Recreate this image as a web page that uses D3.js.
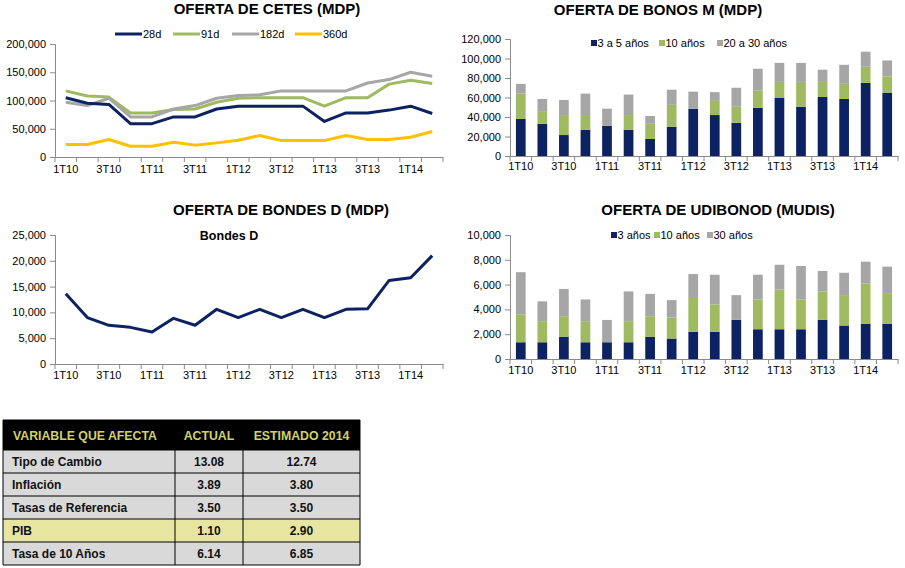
<!DOCTYPE html>
<html><head><meta charset="utf-8">
<script src="https://cdn.jsdelivr.net/npm/d3@7"></script>
<style>
body{margin:0;background:#fff;}
svg{display:block;font-family:"Liberation Sans",Arial,sans-serif;}
</style></head>
<body><svg id="c" width="905" height="568"></svg>
<script>
const categories = ["1T10","2T10","3T10","4T10","1T11","2T11","3T11","4T11","1T12","2T12","3T12","4T12","1T13","2T13","3T13","4T13","1T14","2T14"];

// CETES (MDP)
const cetes28 = [105000,95000,93000,59000,59000,71000,71000,85000,90000,90000,90000,90000,63000,78000,78000,83000,90000,77000];
const cetes91 = [117000,108000,106000,78000,78000,84000,85000,97000,104000,105000,105000,105000,90000,105000,105000,129000,136000,130000];
const cetes182 = [97000,91000,104000,71000,71000,85000,91000,104000,109000,110000,117000,117000,117000,117000,131000,137000,150000,143000];
const cetes360 = [22000,22000,31000,19000,19000,26000,21000,25000,29500,38000,29000,29000,29000,38000,31000,31000,35000,45000];
const cetesNames = ["28d","91d","182d","360d"];

// BONOS M (MDP)
const bonos3a5 = [38000,33000,21500,27000,31000,27000,17500,30000,48500,42000,34000,49500,59500,50500,60500,58500,75000,65000];
const bonos10 = [26000,13000,20500,15000,0,15000,15500,22500,0,14500,16500,17500,16500,25500,15500,15500,16500,16500];
const bonos20a30 = [10000,12500,15500,22000,17500,21000,8000,15500,17500,9000,19500,22500,19500,19500,12500,19500,15500,16500];
const bonosNames = ["3 a 5 años","10 años","20 a 30 años"];

// BONDES D (MDP)
const bondes = [13600,9000,7500,7100,6200,8850,7500,10600,9000,10600,9000,10600,9000,10600,10700,16200,16700,21000];

// UDIBONOD (MUDIS)
const udi3 = [1350,1350,1800,1350,1350,1350,1800,1650,2200,2200,3150,2400,2400,2400,3150,2700,2850,2850];
const udi10 = [2250,1700,1650,1700,0,1700,1650,1700,2800,2200,0,2400,3200,2400,2300,2450,3250,2400];
const udi30 = [3400,1600,2200,1750,1800,2400,1800,1400,1850,2400,2000,2000,2000,2700,1650,1800,1750,2200];
const udiNames = ["3 años","10 años","30 años"];

// Tabla
const tableHeader = ["VARIABLE QUE AFECTA","ACTUAL","ESTIMADO 2014"];
const tableVars = ["Tipo de Cambio","Inflación","Tasas de Referencia","PIB","Tasa de 10 Años"];
const tableActual = ["13.08","3.89","3.50","1.10","6.14"];
const tableEstimado = ["12.74","3.80","3.50","2.90","6.85"];

const NAVY="#0c2262", GREEN="#9fba60", GRAY="#a6a6a6", YELLOW="#ffc000", AXIS="#8a8a8a";
const svg = d3.select("#c");
const fmt = d3.format(",");

function axes(g, x, y, ticks, labelDy){
  const [x0,x1] = x.range();
  const [y0,y1] = y.range();
  const ya = g.append("g").attr("transform",`translate(${x0},0)`)
    .call(d3.axisLeft(y).tickValues(ticks).tickSize(5).tickPadding(4).tickFormat(fmt));
  ya.select(".domain").attr("stroke",AXIS);
  ya.selectAll(".tick line").attr("stroke",AXIS);
  ya.selectAll("text").attr("font-size",11).attr("fill","#000").attr("font-family","Liberation Sans, Arial, sans-serif");
  const xa = g.append("g").attr("transform",`translate(0,${y0})`)
    .call(d3.axisBottom(x).tickSize(0).tickPadding(labelDy).tickFormat((d,i)=> i%2===0 ? d : ""));
  xa.select(".domain").attr("stroke",AXIS);
  xa.selectAll("text").attr("font-size",11).attr("fill","#000").attr("font-family","Liberation Sans, Arial, sans-serif");
  const step = (x1-x0)/categories.length;
  g.append("g").selectAll("line").data(d3.range(categories.length+1)).join("line")
    .attr("x1",i=>x0+i*step).attr("x2",i=>x0+i*step)
    .attr("y1",y0).attr("y2",y0+5).attr("stroke",AXIS);
}

function title(txt, cx, by){
  svg.append("text").attr("x",cx).attr("y",by).attr("text-anchor","middle")
    .attr("font-size",15).attr("font-weight","bold").text(txt);
}

// ---------- Chart 1: CETES ----------
{
  const g = svg.append("g");
  const x = d3.scalePoint().domain(categories).range([55,443]).padding(0.5);
  const xb = d3.scaleBand().domain(categories).range([55,443]);
  const y = d3.scaleLinear().domain([0,200000]).range([157,44]);
  axes(g, xb, y, d3.range(0,200001,50000), 8);
  const series = [cetes28,cetes91,cetes182,cetes360];
  const colors = [NAVY,GREEN,GRAY,YELLOW];
  const line = d3.line().x((d,i)=>x(categories[i])).y(d=>y(d));
  [3,1,2,0].forEach(k=>{
    g.append("path").datum(series[k]).attr("d",line).attr("fill","none")
      .attr("stroke",colors[k]).attr("stroke-width",3).attr("stroke-linejoin","round");
  });
  const lx = [115,173,232,295];
  cetesNames.forEach((n,k)=>{
    g.append("line").attr("x1",lx[k]).attr("x2",lx[k]+27).attr("y1",34).attr("y2",34)
      .attr("stroke",colors[k]).attr("stroke-width",3);
    g.append("text").attr("x",lx[k]+28).attr("y",38).attr("font-size",11).text(n);
  });
  title("OFERTA DE CETES (MDP)", 267, 14);
}

function stacked(series, names, colors, xr, yr, domainMax, tickStep, legendX, legendY, labelDy){
  const g = svg.append("g");
  const x = d3.scaleBand().domain(categories).range(xr).paddingInner(0.55).paddingOuter(0.275);
  const xb = d3.scaleBand().domain(categories).range(xr);
  const y = d3.scaleLinear().domain([0,domainMax]).range(yr);
  const rows = categories.map((c,i)=>{ const o={cat:c}; names.forEach((n,k)=>o[n]=series[k][i]); return o; });
  const st = d3.stack().keys(names)(rows);
  g.selectAll("g.s").data(st).join("g").attr("fill",(d,k)=>colors[k])
    .selectAll("rect").data(d=>d).join("rect")
    .attr("x",d=>x(d.data.cat)).attr("width",x.bandwidth())
    .attr("y",d=>y(d[1])).attr("height",d=>y(d[0])-y(d[1]));
  axes(g, xb, y, d3.range(0,domainMax+1,tickStep), labelDy);
  names.forEach((n,k)=>{
    g.append("rect").attr("x",legendX[k]).attr("y",legendY-3).attr("width",6).attr("height",6).attr("fill",colors[k]);
    g.append("text").attr("x",legendX[k]+6.5).attr("y",legendY+4).attr("font-size",11).text(n);
  });
}

// ---------- Chart 2: BONOS M ----------
stacked([bonos3a5,bonos10,bonos20a30], bonosNames, [NAVY,GREEN,GRAY], [510,898],[156,39],120000,20000,[591,659,717],43,6);
title("OFERTA DE BONOS M (MDP)", 658, 15);

// ---------- Chart 3: BONDES D ----------
{
  const g = svg.append("g");
  const x = d3.scalePoint().domain(categories).range([55,443]).padding(0.5);
  const xb = d3.scaleBand().domain(categories).range([55,443]);
  const y = d3.scaleLinear().domain([0,25000]).range([364,235]);
  axes(g, xb, y, d3.range(0,25001,5000), 7);
  g.append("path").datum(bondes).attr("d",d3.line().x((d,i)=>x(categories[i])).y(d=>y(d)))
    .attr("fill","none").attr("stroke",NAVY).attr("stroke-width",3).attr("stroke-linejoin","round");
  g.append("text").attr("x",229).attr("y",240).attr("text-anchor","middle")
    .attr("font-size",12.5).attr("font-weight","bold").text("Bondes D");
  title("OFERTA DE BONDES D (MDP)", 281, 215);
}

// ---------- Chart 4: UDIBONOD ----------
stacked([udi3,udi10,udi30], udiNames, [NAVY,GREEN,GRAY], [510,898],[359,235],10000,2000,[611,654,707],235,7);
title("OFERTA DE UDIBONOD (MUDIS)", 718, 215);

// ---------- Table ----------
{
  const g = svg.append("g");
  const cols = [3,175,243,360];
  const top = 420, hh = 30, rh = 23;
  g.append("rect").attr("x",cols[0]).attr("y",top).attr("width",cols[3]-cols[0]).attr("height",hh).attr("fill","#000");
  tableHeader.forEach((h,j)=>{
    g.append("text").attr("x", j===0 ? 13 : (cols[j]+cols[j+1])/2).attr("y",top+hh/2+4.5)
      .attr("text-anchor", j===0 ? "start":"middle").attr("font-size",12.3).attr("font-weight","bold")
      .attr("fill","#d2d26a").text(h);
  });
  const rows = tableVars.map((v,i)=>[v,tableActual[i],tableEstimado[i]]);
  const rg = g.selectAll("g.r").data(rows).join("g").attr("transform",(d,i)=>`translate(0,${top+hh+i*rh})`);
  rg.append("rect").attr("x",cols[0]).attr("y",0).attr("width",cols[3]-cols[0]).attr("height",rh)
    .attr("fill",(d,i)=> tableVars[i]==="PIB" ? "#e6e6a0" : "#d9d9d9");
  rg.each(function(r){
    const sel = d3.select(this);
    r.forEach((t,j)=>{
      sel.append("text").attr("x", j===0 ? 12 : (cols[j]+cols[j+1])/2).attr("y",rh/2+4.5)
        .attr("text-anchor", j===0 ? "start":"middle").attr("font-size",12).attr("font-weight","bold")
        .attr("fill","#111").text(t);
    });
  });
  const bottom = top+hh+rows.length*rh;
  d3.range(rows.length+1).forEach(i=>{
    g.append("line").attr("x1",cols[0]).attr("x2",cols[3]).attr("y1",top+hh+i*rh).attr("y2",top+hh+i*rh).attr("stroke","#000");
  });
  cols.forEach((c,j)=>{
    g.append("line").attr("x1",c).attr("x2",c).attr("y1", (j===0||j===3)?top:top+hh).attr("y2",bottom).attr("stroke","#000");
  });
  g.append("line").attr("x1",cols[0]).attr("x2",cols[3]).attr("y1",top).attr("y2",top).attr("stroke","#000");
}
</script></body></html>
